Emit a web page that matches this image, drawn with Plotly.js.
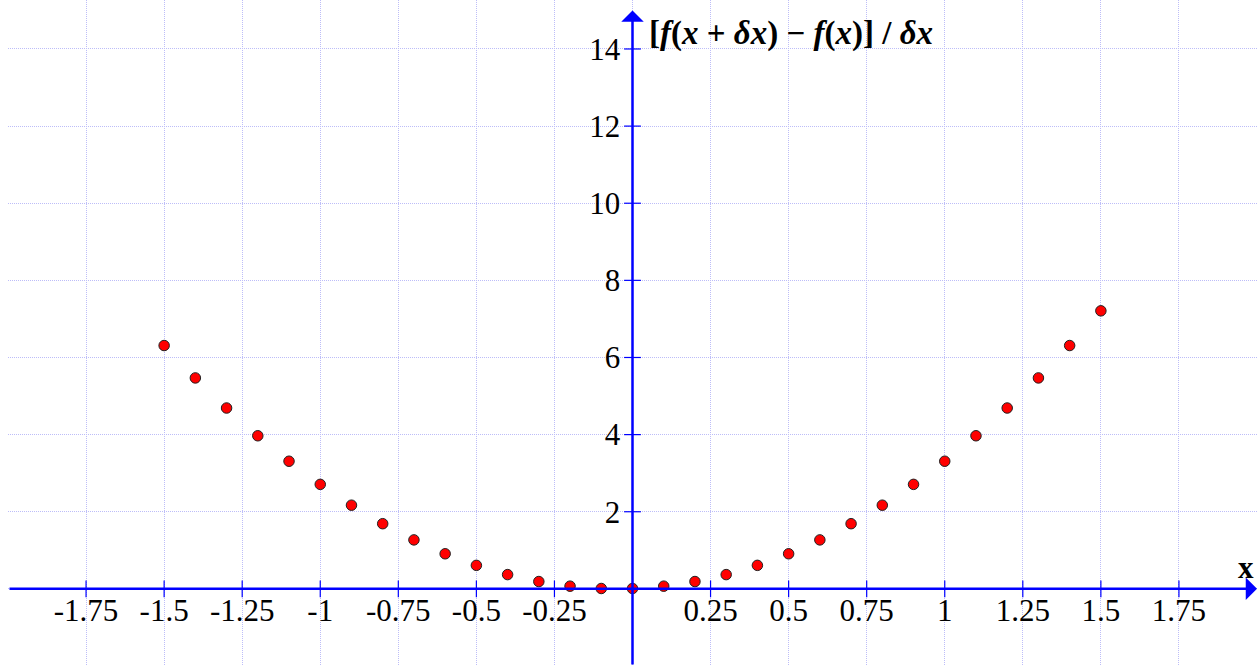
<!DOCTYPE html>
<html>
<head>
<meta charset="utf-8">
<script src="https://cdn.plot.ly/plotly-3.0.1.min.js"></script>
<style>
  html, body { margin: 0; padding: 0; background: #ffffff; }
  #chart { width: 1257px; height: 666px; }
</style>
</head>
<body>
<div id="chart"></div>
<script>
// Difference quotient [f(x + δx) − f(x)] / δx sampled at x = -1.5 … 1.5
const xValues = [-1.5, -1.4, -1.3, -1.2, -1.1, -1.0, -0.9, -0.8, -0.7, -0.6, -0.5,
                 -0.4, -0.3, -0.2, -0.1, 0.0, 0.1, 0.2, 0.3, 0.4, 0.5,
                 0.6, 0.7, 0.8, 0.9, 1.0, 1.1, 1.2, 1.3, 1.4, 1.5];
const quotientValues = [6.31, 5.47, 4.69, 3.97, 3.31, 2.71, 2.17, 1.69, 1.27, 0.91, 0.61,
                        0.37, 0.19, 0.07, 0.01, 0.01, 0.07, 0.19, 0.37, 0.61, 0.91,
                        1.27, 1.69, 2.17, 2.71, 3.31, 3.97, 4.69, 5.47, 6.31, 7.21];

// Axis ticks
const xTickVals = [-1.75, -1.5, -1.25, -1, -0.75, -0.5, -0.25, 0.25, 0.5, 0.75, 1, 1.25, 1.5, 1.75];
const xTickText = ['-1.75', '-1.5', '-1.25', '-1', '-0.75', '-0.5', '-0.25', '0.25', '0.5', '0.75', '1', '1.25', '1.5', '1.75'];
const yTickVals = [2, 4, 6, 8, 10, 12, 14];
const yTickText = ['2', '4', '6', '8', '10', '12', '14'];

const xRange = [-2, 2];
const yRange = [-2, 15.27];
const xArrow = [-2, 2];
const yArrow = [-2, 15];

const AXIS_BLUE = '#0000ff';
const GRID = '#bdbdf8';
const SERIF = '"Liberation Serif", "Times New Roman", serif';

// grid lines include the origin; labels skip it
const xGridVals = xTickVals.slice(0, 7).concat([0], xTickVals.slice(7), [2]);
const xGridText = xTickText.slice(0, 7).concat([''], xTickText.slice(7), ['']);
const yGridVals = [-2, 0].concat(yTickVals);
const yGridText = ['', ''].concat(yTickText);

const yZeroFrac = (0 - yRange[0]) / (yRange[1] - yRange[0]);
const xZeroFrac = (0 - xRange[0]) / (xRange[1] - xRange[0]);

const traces = [
  // small tick marks crossing the x axis
  {
    x: xTickVals, y: xTickVals.map(() => 0),
    type: 'scatter', mode: 'markers', hoverinfo: 'skip', showlegend: false,
    marker: { symbol: 'line-ns', size: 12, line: { color: AXIS_BLUE, width: 1.2 } }
  },
  // small tick marks crossing the y axis
  {
    x: yTickVals.map(() => 0), y: yTickVals,
    type: 'scatter', mode: 'markers', hoverinfo: 'skip', showlegend: false,
    marker: { symbol: 'line-ew', size: 12, line: { color: AXIS_BLUE, width: 1.2 } }
  },
  // the sampled difference quotient
  {
    x: xValues, y: quotientValues,
    type: 'scatter', mode: 'markers', showlegend: false,
    marker: { color: '#ff0000', size: 10.5, line: { color: '#202020', width: 1 } },
    cliponaxis: false
  }
];

const layout = {
  width: 1257,
  height: 666,
  margin: { l: 8, r: 0, t: 0, b: 0, pad: 0 },
  paper_bgcolor: '#ffffff',
  plot_bgcolor: '#ffffff',
  showlegend: false,
  hovermode: false,
  xaxis: {
    range: xRange,
    anchor: 'free',
    position: yZeroFrac,
    tickmode: 'array',
    tickvals: xGridVals,
    ticktext: xGridText,
    ticks: '', ticklen: 0,
    ticklabelstandoff: 0,
    showline: false,
    zeroline: false,
    showgrid: true,
    gridcolor: GRID,
    gridwidth: 1,
    griddash: '1px,1px',
    tickfont: { family: SERIF, size: 31, color: '#000000' },
    fixedrange: true
  },
  yaxis: {
    range: yRange,
    anchor: 'free',
    position: xZeroFrac,
    tickmode: 'array',
    tickvals: yGridVals,
    ticktext: yGridText,
    ticks: 'outside', ticklen: 6, tickcolor: 'rgba(0,0,0,0)',
    showline: false,
    zeroline: false,
    showgrid: true,
    gridcolor: GRID,
    gridwidth: 1,
    griddash: '1px,1px',
    tickfont: { family: SERIF, size: 31, color: '#000000' },
    fixedrange: true
  },
  annotations: [
    // x axis with arrow head
    {
      x: xArrow[1], y: 0, xref: 'x', yref: 'y',
      ax: xArrow[0], ay: 0, axref: 'x', ayref: 'y',
      text: '', showarrow: true, arrowhead: 1, arrowsize: 1.5,
      arrowwidth: 2.5, arrowcolor: AXIS_BLUE, standoff: 0
    },
    // y axis with arrow head
    {
      x: 0, y: yArrow[1], xref: 'x', yref: 'y',
      ax: 0, ay: yArrow[0], axref: 'x', ayref: 'y',
      text: '', showarrow: true, arrowhead: 1, arrowsize: 1.5,
      arrowwidth: 2.5, arrowcolor: AXIS_BLUE, standoff: 0
    },
    // y axis title
    {
      x: 0.045, y: 14.4, xref: 'x', yref: 'y',
      xanchor: 'left', yanchor: 'middle', showarrow: false,
      text: '<b>[<i>f</i>(<i>x</i> + <i>δx</i>) − <i>f</i>(<i>x</i>)] / <i>δx</i></b>',
      font: { family: SERIF, size: 33, color: '#000000' }
    },
    // x axis title
    {
      x: 1.965, y: 0.55, xref: 'x', yref: 'y',
      xanchor: 'center', yanchor: 'middle', showarrow: false,
      text: '<b>x</b>',
      font: { family: SERIF, size: 31, color: '#000000' }
    }
  ]
};

Plotly.newPlot('chart', traces, layout, { displayModeBar: false, staticPlot: true });
</script>
</body>
</html>
